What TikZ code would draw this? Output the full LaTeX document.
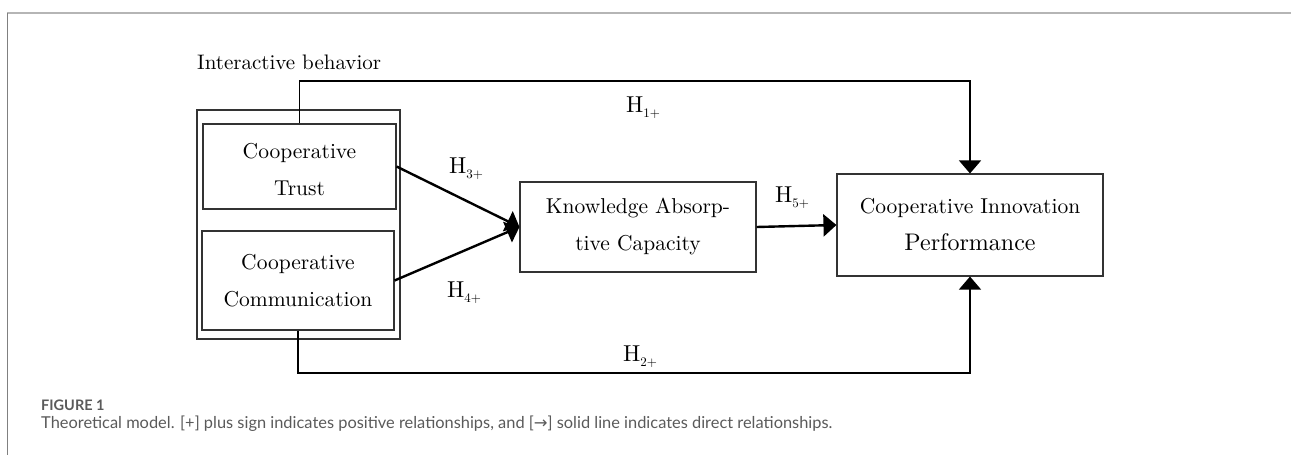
\documentclass[tikz,border=0pt]{standalone}
\usepackage{fontspec}
\setmainfont{lmroman10-regular}[Extension=.otf, BoldFont=lmroman10-bold]
\newfontfamily\capfont{Lato}
\newfontfamily\arrfont{DejaVu Sans}
\usetikzlibrary{arrows.meta}
\definecolor{boxline}{HTML}{333333}
\definecolor{captxt}{HTML}{5A5A5A}
\definecolor{framegray}{HTML}{B5B5B5}
\tikzset{
  box/.style={draw=boxline, line width=1.1pt, inner sep=0pt, align=center,
    font=\fontsize{21.5pt}{37pt}\selectfont},
  thinarrow/.style={draw=black, line width=1.3pt, -{Triangle[length=13pt,width=22pt]}},
  thickarrow/.style={draw=black, line width=2.4pt, -{Triangle[length=13pt,width=22pt]}},
  hlab/.style={inner sep=0pt, anchor=base west, font=\fontsize{23pt}{26pt}\selectfont},
}
\newcommand{\hsub}[1]{H\raisebox{-5pt}{\fontsize{13pt}{14pt}\selectfont #1}}
\begin{document}
\begin{tikzpicture}[x=1pt,y=-1pt]
\useasboundingbox (0,0) rectangle (1291,455);
% frame
\draw[framegray, line width=2pt] (7,13) -- (1291,13);
\draw[gray, line width=1pt] (7,13) -- (7,455);
% title
\node[inner sep=0pt, anchor=base west, font=\fontsize{21pt}{25pt}\selectfont] (ib) at (197,69) {Interactive behavior};
% boxes
\node[box, minimum width=203pt, minimum height=229pt] (outer) at (298.5,224.5) {};
\node[box, minimum width=193pt, minimum height=85pt] (trust) at (299.5,166.5) {};
\node[inner sep=0pt, align=center, font=\fontsize{21.5pt}{37pt}\selectfont] (trustt) at (299.5,170) {Cooperative\\Trust};
\node[box, minimum width=192pt, minimum height=99pt] (comm) at (298,280.5) {Cooperative\\Communication};
\node[box, minimum width=236pt, minimum height=90pt] (kac) at (638,227) {Knowledge Absorp-\\tive Capacity};
\node[box, minimum width=266pt, minimum height=102pt] (cip) at (970,225) {Cooperative Innovation\\{\fontsize{24pt}{37pt}\selectfont Performance}};
% connectors
\coordinate (topy) at (0,81);
\coordinate (boty) at (0,373);
\draw[thinarrow] (trust.north) -- (trust.north |- topy) -| (cip.north);
\draw[thinarrow] (comm.south) -- (comm.south |- boty) -| (cip.south);
\draw[thickarrow] (trust.east) -- (kac.west);
\draw[thickarrow] (comm.east) -- (kac.west);
\draw[thickarrow] (kac.east) -- (cip.west);
% labels
\node[hlab] (h1) at (626,112) {\hsub{1+}};
\node[hlab] (h2) at (623,361) {\hsub{2+}};
\node[hlab] (h3) at (449,173) {\hsub{3+}};
\node[hlab] (h4) at (447,297) {\hsub{4+}};
\node[hlab] (h5) at (775,202) {\hsub{5+}};
% caption
\node[inner sep=0pt, anchor=base west, text=captxt, font=\capfont\bfseries\fontsize{14.5pt}{16pt}\selectfont] (fig) at (41,410) {FIGURE 1};
\node[inner sep=0pt, anchor=base west, text=captxt, font=\capfont\fontsize{16.4pt}{18pt}\selectfont] (cap) at (41,428) {Theoretical model. [+] plus sign indicates positive relationships, and [{\arrfont →}] solid line indicates direct relationships.};
\end{tikzpicture}
\end{document}
